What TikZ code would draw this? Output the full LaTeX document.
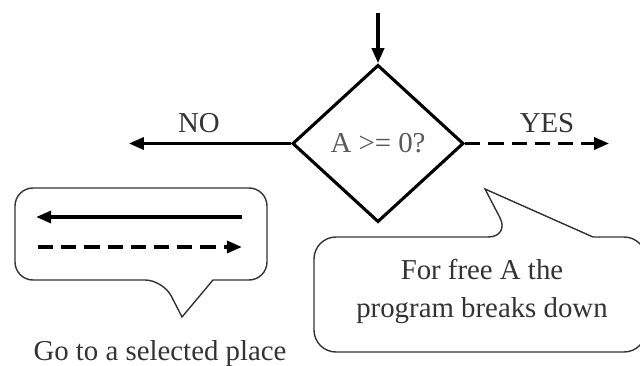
\documentclass[tikz,border=0pt]{standalone}
\usepackage{fontspec}
\setmainfont{Liberation Serif}
\usetikzlibrary{shapes.geometric, arrows.meta, positioning}
\tikzset{
  decision/.style={diamond, draw, line width=2.2pt, aspect=1.09,
    minimum width=4.28cm, minimum height=3.93cm, inner sep=0pt, text=black!65},
  flow/.style={line width=2.5pt, -{Triangle[length=0.38cm, width=0.3cm]}},
  flowdash/.style={flow, dash pattern=on 0.38cm off 0.2cm},
  bubble/.style={draw=black!80, line width=1pt, fill=white},
  tag/.style={text=black!80, inner sep=0pt},
}

\begin{document}
\begin{tikzpicture}[x=0.025cm, y=-0.025cm, font=\fontsize{20.5}{27}\selectfont]
    \useasboundingbox (0,0) rectangle (640,366);
		\node[decision] (test) at (378,143.5) {A >= 0?};
		\coordinate[above=1.25cm of test] (start);
		\coordinate[left=4.05cm of test]  (noend);
		\coordinate[right=3.6cm of test]  (yesend);
    \draw[flow] (start) -- (test);
    \draw[flow] (test) -- (noend);
    \draw[flowdash] (test) -- (yesend);
		\node[tag] (no)  at (199,123) {NO};
		\node[tag] (yes) at (547,123) {YES};
    % callout for the legend
    \draw[bubble] (213,280) [rounded corners=0.45cm] -- (267,280) -- (267,188)
      -- (15,188) -- (15,280) -- (163,280) [sharp corners] -- (182,317) -- cycle;
    \coordinate (solidfrom) at (242,217);
    \coordinate (solidto)   at (36,217);
    \coordinate (dashfrom)  at (38,247);
    \coordinate (dashto)    at (242,247);
    \draw[flow] (solidfrom) -- (solidto);
    \draw[flowdash] (dashfrom) -- (dashto);
		\node[tag] (goto) at (160,354) {Go to a selected place};
    % callout for the warning
    \draw[bubble] (593,237) [rounded corners=0.55cm] -- (646,237) -- (646,352)
      -- (314,352) -- (314,237) -- (510,237) [sharp corners] -- (485,189) -- cycle;
		\node[tag, align=center] (warn) at (482,291) {For free A the\\program breaks down};
\end{tikzpicture}
\end{document}
